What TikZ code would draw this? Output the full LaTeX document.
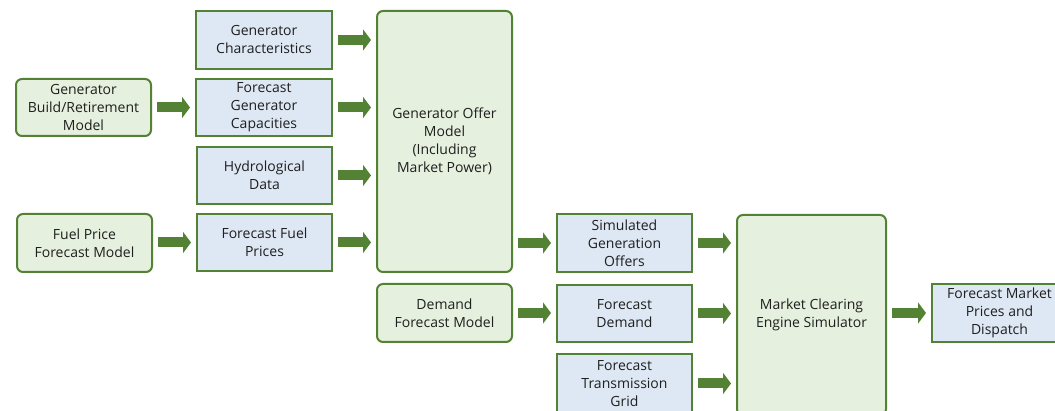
\documentclass[tikz,border=0pt]{standalone}
\usepackage{fontspec}
\setmainfont{Open Sans}
\usetikzlibrary{arrows.meta}
\definecolor{bord}{HTML}{548235}
\definecolor{gfill}{HTML}{E6F0DE}
\definecolor{bfill}{HTML}{DEE8F4}
\tikzset{
  base/.style={draw=bord, line width=2pt, align=center, inner sep=0pt,
    font=\fontsize{14}{18}\selectfont, text=black!88},
  gbox/.style={base, fill=gfill, rounded corners=6pt},
  bbox/.style={base, fill=bfill},
  flow/.style={draw=bord, line width=10pt, shorten <=5pt, shorten >=5pt,
    -{Triangle[width=21pt,length=8pt]}},
}
\begin{document}
\begin{tikzpicture}[x=1pt,y=-1pt]
\useasboundingbox (0,0) rectangle (1055,411);
\clip (0,0) rectangle (1055,411);
% left column
\node[gbox, minimum width=135pt, minimum height=57pt] (gbr) at (83.5,107.5) {Generator\\Build/Retirement\\Model};
\node[gbox, minimum width=135pt, minimum height=58pt] (fpfm) at (84.5,243) {Fuel Price\\Forecast Model};
% second column
\node[bbox, minimum width=136pt, minimum height=58pt] (gc) at (264,40) {Generator\\Characteristics};
\node[bbox, minimum width=136pt, minimum height=57pt] (fgc) at (264,107.5) {Forecast\\Generator\\Capacities};
\node[bbox, minimum width=135pt, minimum height=57pt] (hd) at (264.5,175.5) {Hydrological\\Data};
\node[bbox, minimum width=135pt, minimum height=57pt] (ffp) at (264.5,242.5) {Forecast Fuel\\Prices};
% third column
\node[gbox, minimum width=135pt, minimum height=261pt] (gom) at (444.5,141.5) {Generator Offer\\Model\\(Including\\Market Power)};
\node[gbox, minimum width=135pt, minimum height=58pt] (dfm) at (444.5,313) {Demand\\Forecast Model};
% fourth column
\node[bbox, minimum width=135pt, minimum height=58pt] (sgo) at (624.5,243) {Simulated\\Generation\\Offers};
\node[bbox, minimum width=135pt, minimum height=57pt] (fd) at (624.5,313.5) {Forecast\\Demand};
\node[bbox, minimum width=135pt, minimum height=58pt] (ftg) at (624.5,383.5) {Forecast\\Transmission\\Grid};
% fifth column
\node[gbox, minimum width=149pt, minimum height=200pt] (mce) at (811.5,315) {Market Clearing\\Engine Simulator};
\node[bbox, minimum width=135pt, minimum height=58pt] (fmpd) at (999.5,313) {Forecast Market\\Prices and\\Dispatch};
% arrows
\draw[flow] (gbr.east) -- (fgc.west |- gbr.east);
\draw[flow] (fpfm.east |- ffp.west) -- (ffp.west);
\draw[flow] (gc.east) -- (gom.west |- gc.east);
\draw[flow] (fgc.east) -- (gom.west |- fgc.east);
\draw[flow] (hd.east) -- (gom.west |- hd.east);
\draw[flow] (ffp.east) -- (gom.west |- ffp.east);
\draw[flow] (gom.east |- sgo.west) -- (sgo.west);
\draw[flow] (dfm.east) -- (fd.west |- dfm.east);
\draw[flow] (sgo.east) -- (mce.west |- sgo.east);
\draw[flow] (fd.east) -- (mce.west |- fd.east);
\draw[flow] (ftg.east) -- (mce.west |- ftg.east);
\draw[flow] (mce.east |- fmpd.west) -- (fmpd.west);
\end{tikzpicture}
\end{document}
